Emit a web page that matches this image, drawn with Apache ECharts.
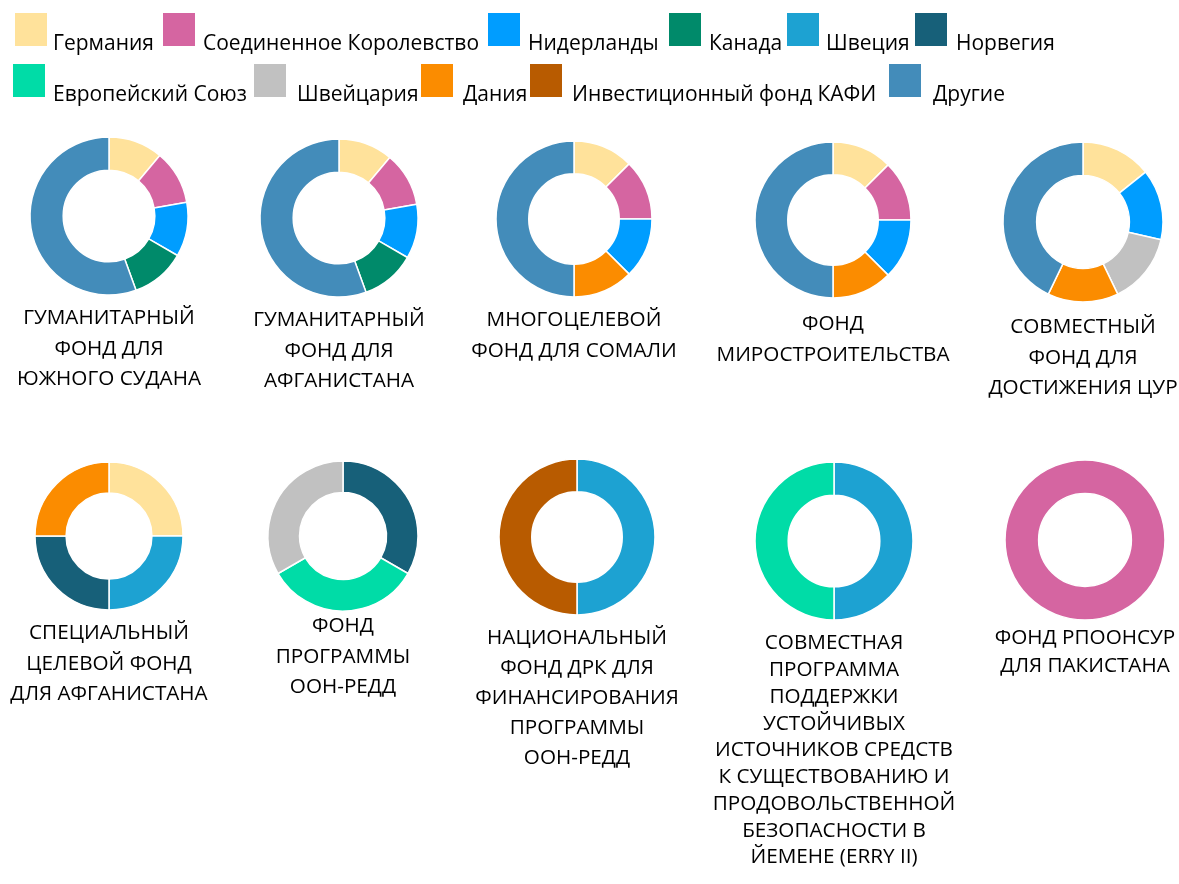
<!DOCTYPE html>
<html>
<head>
<meta charset="utf-8">
<script src="https://cdn.jsdelivr.net/npm/echarts@6/dist/echarts.min.js"></script>
<style>
html,body{margin:0;padding:0;background:#fff;}
#chart{width:1179px;height:884px;}
</style>
</head>
<body>
<div id="chart"></div>
<script>
// ---- Data ----
const donors = ['Германия', 'Соединенное Королевство', 'Нидерланды', 'Канада', 'Швеция', 'Норвегия',
  'Европейский Союз', 'Швейцария', 'Дания', 'Инвестиционный фонд КАФИ', 'Другие'];

const fundTitles = [
  'ГУМАНИТАРНЫЙ\nФОНД ДЛЯ\nЮЖНОГО СУДАНА',
  'ГУМАНИТАРНЫЙ\nФОНД ДЛЯ\nАФГАНИСТАНА',
  'МНОГОЦЕЛЕВОЙ\nФОНД ДЛЯ СОМАЛИ',
  'ФОНД\nМИРОСТРОИТЕЛЬСТВА',
  'СОВМЕСТНЫЙ\nФОНД ДЛЯ\nДОСТИЖЕНИЯ ЦУР',
  'СПЕЦИАЛЬНЫЙ\nЦЕЛЕВОЙ ФОНД\nДЛЯ АФГАНИСТАНА',
  'ФОНД\nПРОГРАММЫ\nООН-РЕДД',
  'НАЦИОНАЛЬНЫЙ\nФОНД ДРК ДЛЯ\nФИНАНСИРОВАНИЯ\nПРОГРАММЫ\nООН-РЕДД',
  'СОВМЕСТНАЯ\nПРОГРАММА\nПОДДЕРЖКИ\nУСТОЙЧИВЫХ\nИСТОЧНИКОВ СРЕДСТВ\nК СУЩЕСТВОВАНИЮ И\nПРОДОВОЛЬСТВЕННОЙ\nБЕЗОПАСНОСТИ В\nЙЕМЕНЕ (ERRY II)',
  'ФОНД РПООНСУР\nДЛЯ ПАКИСТАНА'
];

// shares per fund, aligned with `donors` (0 = not a donor)
const sharesSouthSudanHF   = [1, 1, 1, 1, 0, 0, 0, 0, 0, 0, 5];
const sharesAfghanistanHF  = [1, 1, 1, 1, 0, 0, 0, 0, 0, 0, 5];
const sharesSomaliaMPTF    = [1, 1, 1, 0, 0, 0, 0, 0, 1, 0, 4];
const sharesPeacebuilding  = [1, 1, 1, 0, 0, 0, 0, 0, 1, 0, 4];
const sharesJointSDG       = [1, 0, 1, 0, 0, 0, 0, 1, 1, 0, 3];
const sharesAfghanistanSTF = [1, 0, 0, 0, 1, 1, 0, 0, 1, 0, 0];
const sharesUNREDD         = [0, 0, 0, 0, 0, 1, 1, 1, 0, 0, 0];
const sharesDRCNational    = [0, 0, 0, 0, 1, 0, 0, 0, 0, 1, 0];
const sharesYemenERRY      = [0, 0, 0, 0, 1, 0, 1, 0, 0, 0, 0];
const sharesPakistanOneUN  = [0, 1, 0, 0, 0, 0, 0, 0, 0, 0, 0];

const allShares = [sharesSouthSudanHF, sharesAfghanistanHF, sharesSomaliaMPTF, sharesPeacebuilding, sharesJointSDG,
  sharesAfghanistanSTF, sharesUNREDD, sharesDRCNational, sharesYemenERRY, sharesPakistanOneUN];

// ---- Styles / layout ----
const colors = ['#FFE29B', '#D565A1', '#009DFF', '#008A6A', '#1DA2D2', '#176079',
  '#00DCA7', '#C1C1C1', '#FB8C00', '#B85B00', '#438CBA'];
const FONT = '"Open Sans", "Noto Sans", sans-serif';

const pieLayout = [
  {c: [109, 216], r: 79}, {c: [339, 218], r: 79}, {c: [574, 219], r: 78}, {c: [833, 220], r: 78}, {c: [1083, 222], r: 80},
  {c: [109, 536], r: 74}, {c: [343, 536], r: 75}, {c: [577, 537], r: 78}, {c: [834, 541], r: 79}, {c: [1085, 540], r: 80}
];
const titleLayout = [
  {top: 303, lh: 30.5}, {top: 305, lh: 30.5}, {top: 305, lh: 30.5}, {top: 309, lh: 30.5}, {top: 312, lh: 30.5},
  {top: 618, lh: 30.5}, {top: 611, lh: 30.5}, {top: 623, lh: 30}, {top: 630, lh: 26.75}, {top: 624, lh: 28}
];
// [swatch left, swatch top, text start]
const legendLayout = [
  [15, 13, 53], [163, 13, 203], [488, 13, 528], [669, 13, 709], [787, 13, 826], [915, 13, 956],
  [13, 64, 53], [254, 64, 297], [421, 64, 463], [530, 64, 572], [889, 64, 933]
];
const SW = 32, SH = 33;

const series = allShares.map((shares, i) => ({
  type: 'pie',
  center: pieLayout[i].c,
  radius: [pieLayout[i].r * 0.58, pieLayout[i].r],
  startAngle: 90,
  clockwise: true,
  silent: true,
  label: {show: false},
  labelLine: {show: false},
  itemStyle: {borderColor: '#ffffff', borderWidth: 1.5},
  data: donors.map((d, k) => ({name: d, value: shares[k], itemStyle: {color: colors[k]}}))
               .filter(o => o.value > 0)
}));

const titles = fundTitles.map((t, i) => ({
  text: t,
  left: pieLayout[i].c[0],
  top: titleLayout[i].top,
  textAlign: 'center',
  padding: 0,
  textStyle: {fontFamily: FONT, fontSize: 20.7, fontWeight: 'normal', color: '#000', lineHeight: titleLayout[i].lh}
}));

const legends = donors.map((d, k) => ({
  data: [d],
  left: legendLayout[k][0],
  top: legendLayout[k][1],
  padding: 0,
  icon: 'rect',
  itemWidth: SW,
  itemHeight: SH,
  itemStyle: {borderWidth: 0},
  selectedMode: false,
  formatter: name => '{t|' + name + '}',
  textStyle: {
    fontFamily: FONT, fontSize: 21, color: '#000',
    rich: {t: {fontFamily: FONT, fontSize: 21, color: '#000',
      padding: [29, 0, 0, Math.max(0, legendLayout[k][2] - legendLayout[k][0] - SW - 5)]}}
  }
}));

const chart = echarts.init(document.getElementById('chart'), null, {renderer: 'canvas'});
chart.setOption({
  backgroundColor: '#ffffff',
  animation: false,
  color: colors,
  title: titles,
  legend: legends,
  series: series
});
</script>
</body>
</html>
